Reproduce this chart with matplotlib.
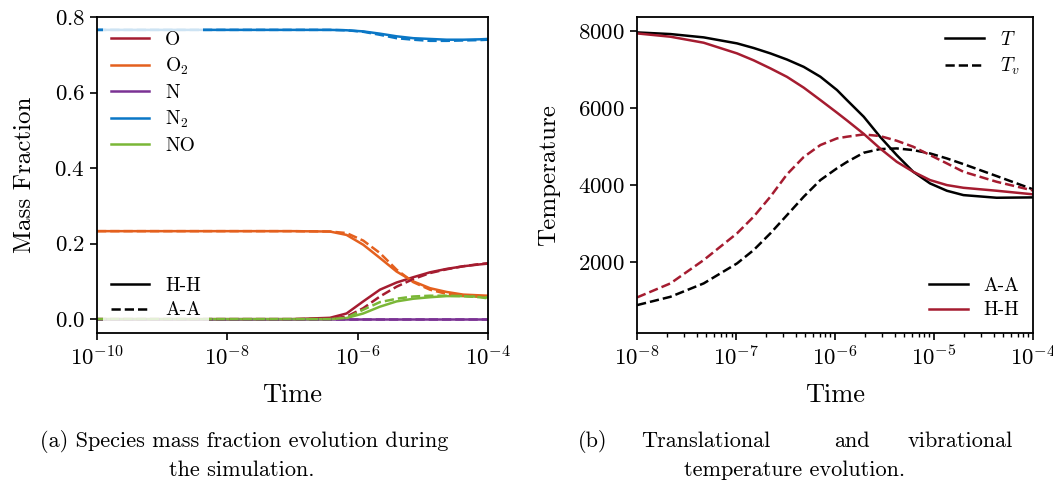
import numpy as np
import matplotlib
matplotlib.use('Agg')
import matplotlib.pyplot as plt
from matplotlib.ticker import LogLocator, NullLocator

plt.rcParams['font.family'] = ['cmr10', 'DejaVu Serif']
plt.rcParams['mathtext.fontset'] = 'cm'
plt.rcParams['axes.formatter.use_mathtext'] = True
plt.rcParams['axes.unicode_minus'] = False

# species colours
species = ['O', 'O$_2$', 'N', 'N$_2$', 'NO']
colors = ['#a51c30', '#e4601e', '#7b3294', '#0a77c6', '#7ab737']
red = '#a51c30'

# (a) mass fractions, log10(time)
lt_a = [-10, -7.0, -6.425, -6.17, -5.914, -5.658, -5.402, -5.147, -4.89, -4.635, -4.38, -4.124, -4.0]
O_hh = [0.0, 0.0, 0.0035, 0.015, 0.047, 0.078, 0.097, 0.111, 0.124, 0.133, 0.140, 0.145, 0.147]
O_aa = [0.0, 0.0, 0.001, 0.0065, 0.029, 0.060, 0.086, 0.106, 0.122, 0.132, 0.140, 0.146, 0.148]
O2_hh = [0.233, 0.233, 0.232, 0.223, 0.197, 0.162, 0.126, 0.100, 0.082, 0.072, 0.065, 0.063, 0.062]
O2_aa = [0.233, 0.233, 0.232, 0.228, 0.208, 0.175, 0.131, 0.098, 0.078, 0.067, 0.062, 0.060, 0.059]
N_hh = [0.0] * len(lt_a)
N_aa = [0.0] * len(lt_a)
N2_hh = [0.766, 0.766, 0.766, 0.765, 0.762, 0.756, 0.749, 0.744, 0.742, 0.740, 0.740, 0.741, 0.742]
N2_aa = [0.766, 0.766, 0.766, 0.765, 0.761, 0.753, 0.744, 0.740, 0.737, 0.737, 0.738, 0.739, 0.740]
NO_hh = [0.0, 0.0, 0.0, 0.003, 0.015, 0.033, 0.047, 0.054, 0.058, 0.061, 0.061, 0.059, 0.057]
NO_aa = [0.0, 0.0, 0.0, 0.0035, 0.025, 0.045, 0.054, 0.060, 0.062, 0.062, 0.061, 0.058, 0.055]

hh = [O_hh, O2_hh, N_hh, N2_hh, NO_hh]
aa = [O_aa, O2_aa, N_aa, N2_aa, NO_aa]

# (b) temperatures
lt_b = [-8, -7.663, -7.327, -6.99, -6.822, -6.653, -6.485, -6.316, -6.148, -5.98, -5.88,
        -5.71, -5.545, -5.377, -5.21, -5.04, -4.87, -4.703, -4.367, -4.0]
T_aa = [7965, 7922, 7836, 7680, 7560, 7420, 7260, 7070, 6814, 6468, 6208,
        5775, 5255, 4779, 4346, 4043, 3853, 3740, 3671, 3680]
T_hh = [7939, 7853, 7697, 7420, 7240, 7031, 6810, 6530, 6208, 5880, 5680,
        5330, 4952, 4606, 4346, 4130, 4000, 3930, 3853, 3760]
Tv_hh = [1083, 1447, 2053, 2747, 3180, 3699, 4280, 4730, 5040, 5213, 5256,
         5316, 5273, 5152, 4996, 4779, 4563, 4346, 4086, 3860]
Tv_aa = [883, 1099, 1447, 1966, 2313, 2747, 3221, 3699, 4130, 4437, 4600,
         4840, 4935, 4952, 4909, 4822, 4692, 4545, 4234, 3890]

fig = plt.figure(figsize=(10.53, 4.87), dpi=100)
ax1 = fig.add_axes([0.0921, 0.316, 0.3713, 0.649])
ax2 = fig.add_axes([0.605, 0.316, 0.376, 0.649])

lw = 1.8
ta = 10.0 ** np.array(lt_a)
for v, c, name in zip(hh, colors, species):
    ax1.plot(ta, v, color=c, lw=lw, label=name)
for v, c in zip(aa, colors):
    ax1.plot(ta, v, color=c, lw=lw, ls='--')

ax1.set_xscale('log')
ax1.set_xlim(1e-10, 1e-4)
ax1.set_ylim(-0.037, 0.8)
ax1.set_xticks([1e-10, 1e-8, 1e-6, 1e-4])
ax1.xaxis.set_minor_locator(NullLocator())
ax1.set_yticks([0.0, 0.2, 0.4, 0.6, 0.8])
ax1.set_xlabel('Time', fontsize=19, labelpad=10)
ax1.set_ylabel('Mass Fraction', fontsize=18, labelpad=13)

leg_kw = dict(fontsize=14, edgecolor='none', framealpha=0.8, borderaxespad=0.3,
              labelspacing=0.36)
leg1 = ax1.legend(loc='upper left', **leg_kw)
ax1.add_artist(leg1)
h1, = ax1.plot([], [], color='black', lw=lw, label='H-H')
h2, = ax1.plot([], [], color='black', lw=lw, ls='--', label='A-A')
ax1.legend(handles=[h1, h2], loc='lower left', **leg_kw)

tb = 10.0 ** np.array(lt_b)
ax2.plot(tb, T_aa, color='black', lw=lw)
ax2.plot(tb, Tv_aa, color='black', lw=lw, ls='--')
ax2.plot(tb, T_hh, color=red, lw=lw)
ax2.plot(tb, Tv_hh, color=red, lw=lw, ls='--')

ax2.set_xscale('log')
ax2.set_xlim(1e-8, 1e-4)
ax2.set_ylim(156, 8364)
ax2.set_yticks([2000, 4000, 6000, 8000])
ax2.xaxis.set_major_locator(LogLocator(base=10, numticks=10))
ax2.set_xlabel('Time', fontsize=19, labelpad=10)
ax2.set_ylabel('Temperature', fontsize=18, labelpad=13)

s1, = ax2.plot([], [], color='black', lw=lw, label='$T$')
s2, = ax2.plot([], [], color='black', lw=lw, ls='--', label='$T_v$')
leg2 = ax2.legend(handles=[s1, s2], loc='upper right', **leg_kw)
ax2.add_artist(leg2)
c1, = ax2.plot([], [], color='black', lw=lw, label='A-A')
c2, = ax2.plot([], [], color=red, lw=lw, label='H-H')
ax2.legend(handles=[c1, c2], loc='lower right', **leg_kw)

for ax in (ax1, ax2):
    ax.tick_params(labelsize=16.5, width=1.2, length=5)
    ax.tick_params(which='minor', width=1.0, length=3)
    for s in ax.spines.values():
        s.set_linewidth(1.3)

# captions
cap = 16
fig.text(0.038, 0.094, '(a) Species mass fraction evolution during', fontsize=cap,
         ha='left', va='center')
fig.text(0.23, 0.035, 'the simulation.', fontsize=cap, ha='center', va='center')
fig.text(0.549, 0.094, '(b)', fontsize=cap, ha='left', va='center')
fig.text(0.609, 0.094, 'Translational', fontsize=cap, ha='left', va='center')
fig.text(0.809, 0.094, 'and', fontsize=cap, ha='center', va='center')
fig.text(0.962, 0.094, 'vibrational', fontsize=cap, ha='right', va='center')
fig.text(0.755, 0.035, 'temperature evolution.', fontsize=cap, ha='center', va='center')

fig.savefig('out.png', dpi=100)
